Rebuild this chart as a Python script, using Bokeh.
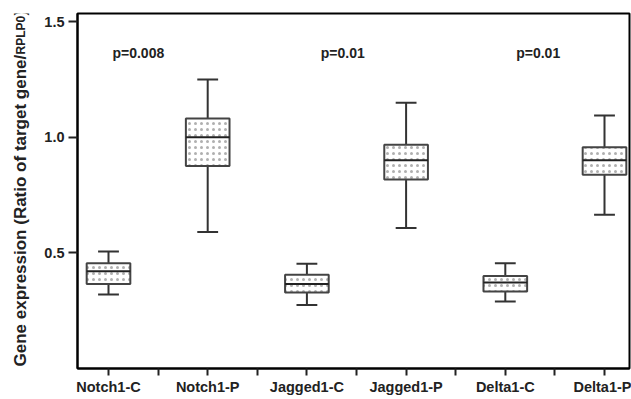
import numpy as np
from bokeh.plotting import figure
from bokeh.layouts import row
from bokeh.models import Range1d, FixedTicker, Label, ColumnDataSource
from bokeh.embed import file_html
from bokeh.resources import INLINE

# ---- data ----
categories = ["Notch1-C", "Notch1-P", "Jagged1-C", "Jagged1-P", "Delta1-C", "Delta1-P"]
whisker_low = [0.32, 0.59, 0.275, 0.607, 0.29, 0.665]
q1 = [0.365, 0.876, 0.329, 0.817, 0.333, 0.838]
median = [0.42, 1.00, 0.365, 0.90, 0.372, 0.90]
q3 = [0.455, 1.081, 0.405, 0.968, 0.40, 0.957]
whisker_high = [0.506, 1.25, 0.453, 1.149, 0.455, 1.094]
p_labels = ["p=0.008", "p=0.01", "p=0.01"]
y_ticks = [0.5, 1.0, 1.5]
y_title_parts = ["Gene expression (Ratio of target gene/", "RPLP0", ")"]

FONT = "Liberation Sans"
H = 397
TW = 30
xpos = np.arange(1, len(categories) + 1, dtype=float)
BOX_W = 0.44
CAP_W = 0.21

src = ColumnDataSource(dict(
    x=xpos, lo=whisker_low, q1=q1, med=median, q3=q3, hi=whisker_high,
    bx0=xpos - BOX_W / 2, bx1=xpos + BOX_W / 2,
    cx0=xpos - CAP_W / 2, cx1=xpos + CAP_W / 2,
))

p = figure(width=631 - TW, height=H, output_backend="svg", toolbar_location=None, title=None,
           x_range=Range1d(0.6875, 6.252), y_range=Range1d(0, 1.535),
           min_border_left=77 - TW, min_border_top=13, min_border_right=2, min_border_bottom=0)
p.grid.visible = False
p.outline_line_color = "black"
p.outline_line_width = 2
p.background_fill_color = "white"
p.border_fill_color = "white"

WC = "#333333"
p.segment(x0="x", x1="x", y0="q3", y1="hi", source=src, line_color=WC, line_width=2)
p.segment(x0="x", x1="x", y0="lo", y1="q1", source=src, line_color=WC, line_width=2)
p.segment(x0="cx0", x1="cx1", y0="hi", y1="hi", source=src, line_color=WC, line_width=2)
p.segment(x0="cx0", x1="cx1", y0="lo", y1="lo", source=src, line_color=WC, line_width=2)
p.vbar(x="x", width=BOX_W, bottom="q1", top="q3", source=src,
       fill_color="white", line_color="#444444", line_width=2,
       hatch_pattern="dot", hatch_color="#b0b0b0", hatch_scale=6, hatch_weight=1)
p.segment(x0="bx0", x1="bx1", y0="med", y1="med", source=src, line_color="#222222", line_width=2)

xa = p.xaxis[0]
xa.ticker = FixedTicker(ticks=list(xpos), minor_ticks=list(xpos[:-1] + 0.5))
xa.major_label_overrides = {float(v): c for v, c in zip(xpos, categories)}
xa.major_tick_out = 7
xa.major_tick_in = 0
xa.minor_tick_out = 7
xa.minor_tick_in = 0
xa.major_label_standoff = 3

ya = p.yaxis[0]
ya.ticker = FixedTicker(ticks=y_ticks, minor_ticks=[])
ya.major_label_overrides = {v: f"{v:.1f}" for v in y_ticks}
ya.major_tick_out = 9
ya.major_tick_in = 0
ya.minor_tick_out = 0
ya.minor_tick_in = 0
ya.major_label_standoff = 4

for ax in (xa, ya):
    ax.axis_line_width = 2
    ax.axis_line_color = "black"
    ax.major_tick_line_width = 2
    ax.minor_tick_line_width = 2
    ax.major_tick_line_color = "#222222"
    ax.minor_tick_line_color = "#222222"
    ax.major_label_text_font = FONT
    ax.major_label_text_font_style = "bold"
    ax.major_label_text_font_size = "14.5px"
    ax.major_label_text_color = "#222222"

for txt, xl in zip(p_labels, [1.04, 3.14, 5.11]):
    p.add_layout(Label(x=xl, y=1.366, text=txt, text_font=FONT, text_font_style="bold",
                       text_font_size="14px", text_color="#222222",
                       text_align="left", text_baseline="middle"))

# y-axis title in a narrow companion figure, with a smaller "RPLP0"
t = figure(width=TW, height=H, output_backend="svg", toolbar_location=None, title=None,
           x_range=Range1d(0, 1), y_range=Range1d(0, 1),
           x_axis_location=None, y_axis_location=None,
           min_border_left=0, min_border_right=0, min_border_top=0, min_border_bottom=0)
t.grid.visible = False
t.outline_line_color = None
t.border_fill_color = "white"
t.background_fill_color = "white"
for txt, yy, fs in zip(y_title_parts, [2, 314, 353], ["17px", "12px", "17px"]):
    t.add_layout(Label(x=20, y=yy, x_units="screen", y_units="screen", angle=np.pi / 2,
                       text=txt, text_font=FONT, text_font_style="bold", text_font_size=fs,
                       text_color="#222222", text_align="left", text_baseline="alphabetic"))

open("out.html", "w").write(file_html(row(t, p), INLINE))
